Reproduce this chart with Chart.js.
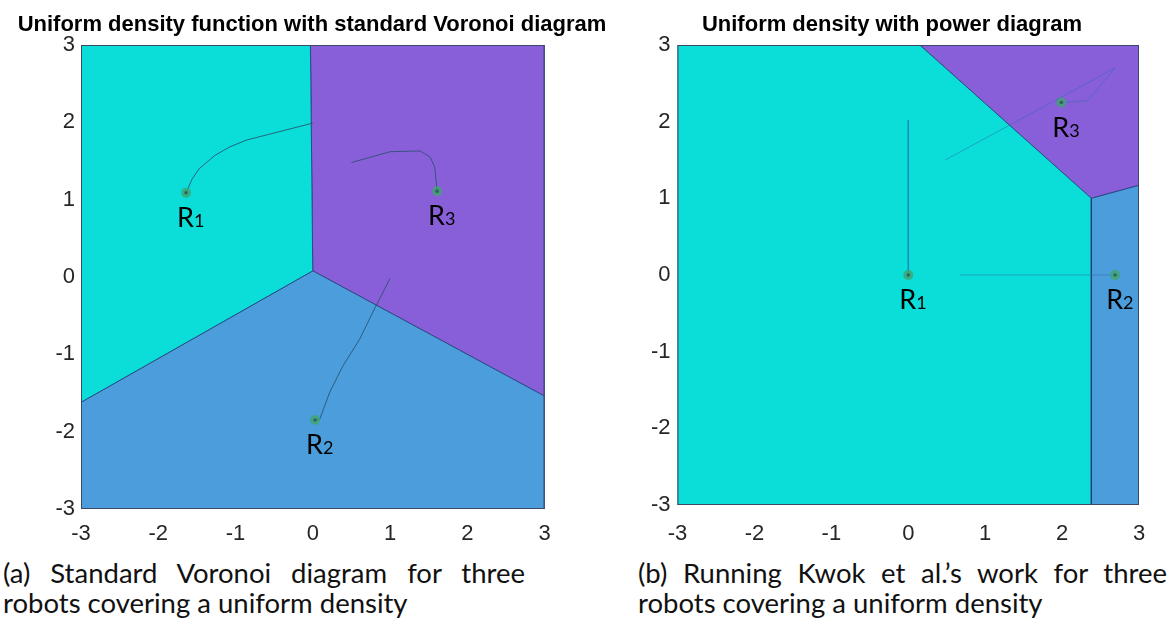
<!DOCTYPE html>
<html>
<head>
<meta charset="utf-8">
<script src="https://cdn.jsdelivr.net/npm/chart.js@4.4.1/dist/chart.umd.min.js"></script>
<style>
  html, body { margin: 0; padding: 0; background: #ffffff; }
  body { width: 1170px; height: 632px; position: relative; overflow: hidden; }
  canvas { position: absolute; top: 0; }
  #chartA { left: 0; z-index: 2; }
  #chartB { left: 600px; z-index: 1; }
  .cap {
    position: absolute; font-family: Lato, "Open Sans", sans-serif;
    font-size: 27.5px; color: #111; white-space: nowrap; line-height: 30px;
  }
  .just { text-align: justify; text-align-last: justify; white-space: normal; }
</style>
</head>
<body>
<canvas id="chartA" width="625" height="552"></canvas>
<canvas id="chartB" width="570" height="552"></canvas>

<div class="cap just" style="left:3px; top:558px; width:522px;">(a) Standard Voronoi diagram for three</div>
<div class="cap" style="left:3px; top:588px;">robots covering a uniform density</div>
<div class="cap just" style="left:638px; top:558px; width:529px;">(b) Running Kwok et al.’s work for three</div>
<div class="cap" style="left:638px; top:588px;">robots covering a uniform density</div>

<script>
// Axis ticks shared by both panels
const TICKS = [-3, -2, -1, 0, 1, 2, 3];

// ---- Panel (a): standard Voronoi partition ----
const titleA = 'Uniform density function with standard Voronoi diagram';
const cellA1 = [[-3, 3], [-0.03, 3], [0, 0.08], [-3, -1.62]];
const cellA3 = [[-0.03, 3], [3, 3], [3, -1.54], [0, 0.08]];
const cellA2 = [[-3, -1.62], [0, 0.08], [3, -1.54], [3, -3], [-3, -3]];

const pathA1x = [-1.64, -1.56, -1.47, -1.27, -1.08, -0.86, 0.0];
const pathA1y = [1.09, 1.27, 1.40, 1.57, 1.68, 1.77, 1.99];
const pathA2x = [1.00, 0.81, 0.61, 0.39, 0.22, 0.09, 0.03];
const pathA2y = [-0.02, -0.39, -0.80, -1.15, -1.49, -1.84, -1.85];
const pathA3x = [0.50, 1.00, 1.39, 1.52, 1.58, 1.61];
const pathA3y = [1.48, 1.62, 1.63, 1.55, 1.42, 1.11];

const robotsAx = [-1.64, 0.03, 1.61];
const robotsAy = [1.09, -1.85, 1.11];

// ---- Panel (b): power diagram ----
const titleB = 'Uniform density with power diagram';
const cellB1 = [[-3, 3], [0.15, 3], [2.38, 1.0], [2.38, -3], [-3, -3]];
const cellB3 = [[0.15, 3], [3, 3], [3, 1.17], [2.38, 1.0]];
const cellB2 = [[2.38, 1.0], [3, 1.17], [3, -3], [2.38, -3]];

const pathB1x = [0, 0];
const pathB1y = [2.02, 0];
const pathB2x = [0.67, 2.69];
const pathB2y = [0, 0];
const pathB3x = [0.48, 2.69, 2.33, 1.99];
const pathB3y = [1.50, 2.70, 2.27, 2.25];

const robotsBx = [0, 2.69, 1.99];
const robotsBy = [0, 0, 2.25];

const robotNames = ['1', '2', '3'];

// Colours of the three cells (R1, R2, R3)
const CELL_COLORS = ['#0bddd8', '#4b9edb', '#895fd9'];
const EDGE_COLOR = 'rgba(38,58,120,0.8)';

const toPts = (pairs) => pairs.concat([pairs[0]]).map(p => ({ x: p[0], y: p[1] }));
const zipPts = (xs, ys) => xs.map((x, i) => ({ x, y: ys[i] }));

function cellDataset(pairs, color) {
  return {
    type: 'line', data: toPts(pairs), showLine: true, fill: 'shape',
    backgroundColor: color, borderColor: EDGE_COLOR, borderWidth: 1,
    pointRadius: 0, tension: 0, order: 5
  };
}
function pathDataset(xs, ys, color) {
  return {
    type: 'line', data: zipPts(xs, ys), showLine: true, fill: false,
    borderColor: color, borderWidth: 1, pointRadius: 0, tension: 0, order: 3
  };
}
function robotDatasets(xs, ys) {
  return [
    { type: 'scatter', data: zipPts(xs, ys), pointRadius: 5, pointBorderWidth: 0,
      pointBackgroundColor: 'rgba(62,165,110,0.8)', order: 2 },
    { type: 'scatter', data: zipPts(xs, ys), pointRadius: 1.8, pointBorderWidth: 0,
      pointBackgroundColor: 'rgba(50,90,100,0.9)', order: 1 }
  ];
}

// Title, frame and robot labels
const panelDecor = {
  id: 'panelDecor',
  afterDatasetsDraw(chart, args, opts) {
    const { ctx, chartArea: a, scales } = chart;
    ctx.save();
    ctx.strokeStyle = '#3b4866';
    ctx.lineWidth = 1;
    ctx.strokeRect(a.left + 0.5, a.top + 0.5, a.right - a.left - 1, a.bottom - a.top - 1);
    // robot labels R with subscript index
    ctx.fillStyle = '#000';
    ctx.textBaseline = 'alphabetic';
    ctx.textAlign = 'left';
    opts.rx.forEach((x, i) => {
      const px = scales.x.getPixelForValue(x) - 9;
      const py = scales.y.getPixelForValue(opts.ry[i]) + 34;
      ctx.font = '27px Lato, "Open Sans", sans-serif';
      ctx.fillText('R', px, py);
      const w = ctx.measureText('R').width;
      ctx.font = '18px Lato, "Open Sans", sans-serif';
      ctx.fillText(robotNames[i], px + w, py);
    });
    // title
    ctx.font = 'bold 22px "Liberation Sans", Arial, sans-serif';
    ctx.textAlign = 'center';
    ctx.fillStyle = '#000';
    ctx.fillText(opts.title, opts.titleX != null ? opts.titleX : (a.left + a.right) / 2, 31);
    ctx.restore();
  }
};

function axisOptions(kind, pad, size) {
  return {
    type: 'linear', min: -3, max: 3,
    afterBuildTicks: (s) => { s.ticks = TICKS.map(v => ({ value: v })); },
    afterFit: (s) => { if (kind === 'x') s.height = size; else s.width = size; },
    grid: { display: false, drawTicks: false },
    border: { display: false },
    ticks: {
      padding: pad, color: '#262626',
      font: { family: '"Liberation Sans", Arial, sans-serif', size: 22 },
      callback: (v) => String(v)
    }
  };
}

function makePanel(id, cells, paths, pathColor, rx, ry, title, geo) {
  const datasets = [
    cellDataset(cells[0], CELL_COLORS[0]),
    cellDataset(cells[1], CELL_COLORS[1]),
    cellDataset(cells[2], CELL_COLORS[2]),
    ...paths.map(p => pathDataset(p[0], p[1], pathColor)),
    ...robotDatasets(rx, ry)
  ];
  return new Chart(document.getElementById(id), {
    type: 'scatter',
    data: { datasets },
    options: {
      responsive: false, animation: false, devicePixelRatio: 1,
      layout: { padding: { left: 0, right: geo.right, top: geo.top, bottom: 0 } },
      scales: {
        x: axisOptions('x', geo.xpad, geo.xh),
        y: axisOptions('y', geo.ypad, geo.yw)
      },
      plugins: {
        legend: { display: false }, tooltip: { enabled: false },
        title: { display: false },
        panelDecor: { rx, ry, title, titleX: geo.titleX }
      }
    },
    plugins: [panelDecor]
  });
}

makePanel('chartA', [cellA1, cellA2, cellA3],
  [[pathA1x, pathA1y], [pathA2x, pathA2y], [pathA3x, pathA3y]],
  'rgba(40,80,110,0.85)', robotsAx, robotsAy, titleA,
  { right: 80.5, top: 45, xh: 43, yw: 81, xpad: 12, ypad: 6, titleX: 312 });

makePanel('chartB', [cellB1, cellB2, cellB3],
  [[pathB1x, pathB1y], [pathB2x, pathB2y], [pathB3x, pathB3y]],
  'rgba(40,110,170,0.5)', robotsBx, robotsBy, titleB,
  { right: 31, top: 45, xh: 47, yw: 77.5, xpad: 16, ypad: 7, titleX: 292 });
</script>
</body>
</html>
